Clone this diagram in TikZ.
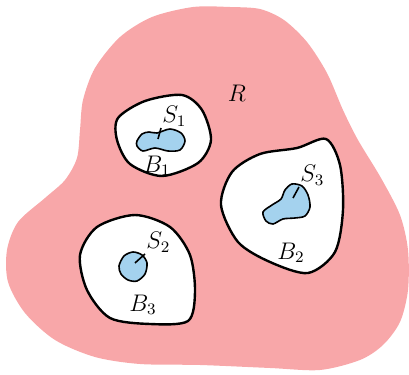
\documentclass[tikz,border=0pt]{standalone}
\usepackage{amsmath}
\usepackage{tikz}
\usetikzlibrary{calc,positioning}
\definecolor{regionpink}{HTML}{F8A7A9}
\definecolor{sourceblue}{HTML}{A4D2EE}

\begin{document}
\begin{tikzpicture}[x=0.5pt,y=-0.5pt,
    hole/.style={draw=black,fill=white,line width=1.2pt},
    source/.style={draw=black,fill=sourceblue,line width=0.8pt},
    tick/.style={line width=0.8pt},
    lbl/.style={inner sep=0.5pt,font=\large}]
    \useasboundingbox (0,0) rectangle (409,375);
    \fill[regionpink]
      plot[smooth cycle] coordinates {(193,7) (230,7) (260,9) (284,20) (307,42) (327,73)
        (343,110) (358,140) (381,178) (400,215) (408,250) (408,290) (400,322) (383,345)
        (360,360) (320,370) (270,368) (200,365) (140,364) (95,357) (55,340) (25,313)
        (8,282) (7,250) (18,222) (45,198) (65,180) (77,158) (80,130) (83,100) (95,68)
        (120,37) (152,17)};
    \draw[hole]
      plot[smooth cycle] coordinates {(118,118) (145,101) (182,95) (202,110) (211,140)
        (198,163) (162,176) (130,164) (117,140)};
    \draw[hole]
      plot[smooth cycle] coordinates {(221,205) (232,172) (260,154) (297,148) (326,139)
        (340,165) (343,210) (335,252) (308,273) (270,262) (238,242)};
    \draw[hole]
      plot[smooth cycle] coordinates {(80,255) (97,227) (135,215) (170,227) (190,255)
        (195,292) (188,321) (150,324) (110,318) (87,290)};
    \draw[source]
      plot[smooth cycle] coordinates {(137,141) (142,134) (149,132) (157,133) (170,129)
        (181,133) (185,141) (180,150) (168,151) (155,148) (143,151) (137,146)};
    \draw[source]
      plot[smooth cycle] coordinates {(263,212) (272,205) (281,199) (285,190) (292,184)
        (302,186) (308,195) (310,207) (305,216) (295,218) (283,219) (273,224) (266,221)};
    \draw[source]
      plot[smooth cycle] coordinates {(119,266) (124,256) (133,252) (142,255) (147,263)
        (145,274) (137,281) (128,280) (121,274)};
    \node[lbl] (rlbl) at (237,93) {$R$};
    \node[lbl] (b1lbl) at (157,166) {$B_1$};
    \node[lbl] (b2lbl) at (291,253) {$B_2$};
    \node[lbl] (b3lbl) at (143,305) {$B_3$};
    \coordinate (s1in) at (158,139);
    \coordinate (s2in) at (135,263);
    \coordinate (s3in) at (293,198);
    \node[lbl,anchor=south west] (s1lbl) at (161,128) {$S_1$};
    \node[lbl,anchor=south west] (s2lbl) at (145,254) {$S_2$};
    \node[lbl,anchor=south west] (s3lbl) at (299,187) {$S_3$};
    \draw[tick] (s1in) -- (s1lbl.south west);
    \draw[tick] (s2in) -- (s2lbl.south west);
    \draw[tick] (s3in) -- (s3lbl.south west);
  \end{tikzpicture}
\end{document}
